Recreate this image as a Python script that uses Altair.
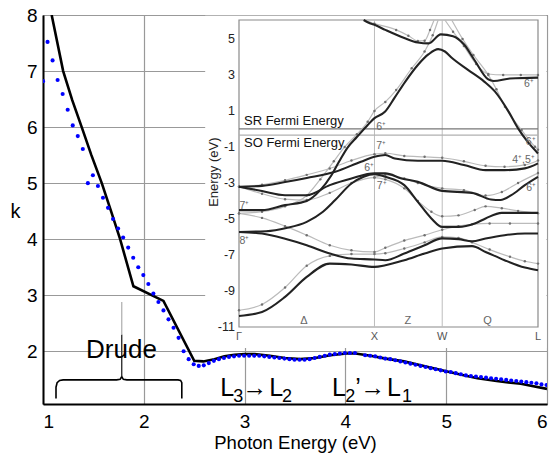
import altair as alt
import pandas as pd

FONT = "Liberation Sans"

# ---------------- main panel data ----------------
calc_x = [1.086, 1.20, 1.29, 1.384, 1.48, 1.583, 1.675, 1.765, 1.897, 2.195, 2.50, 2.59, 2.70, 2.80,
          2.90, 3.00, 3.10, 3.25, 3.40, 3.55, 3.70, 3.85, 4.01, 4.10, 4.25, 4.40, 4.58, 4.80, 5.01,
          5.15, 5.31, 5.50, 5.74, 6.00]
calc_k = [8.0, 7.0, 6.48, 6.0, 5.5, 5.0, 4.5, 4.0, 3.16, 2.90, 1.83, 1.82, 1.86, 1.91,
          1.94, 1.95, 1.95, 1.92, 1.88, 1.86, 1.88, 1.93, 1.96, 1.96, 1.92, 1.87, 1.82, 1.73, 1.64,
          1.58, 1.52, 1.47, 1.42, 1.33]

exp_x = [1.000, 1.045, 1.095, 1.145, 1.195, 1.245, 1.295, 1.345, 1.395, 1.445, 1.495, 1.545, 1.595,
         1.645, 1.695, 1.745, 1.795, 1.845, 1.895, 1.945, 1.995, 2.045, 2.095, 2.145, 2.195, 2.245,
         2.295, 2.345, 2.395, 2.445, 2.495, 2.545, 2.595, 2.645, 2.695, 2.745, 2.795, 2.845, 2.895,
         2.945, 2.995, 3.045, 3.095, 3.145, 3.195, 3.245, 3.295, 3.345, 3.395, 3.445, 3.495, 3.545,
         3.595, 3.645, 3.695, 3.745, 3.795, 3.845, 3.895, 3.945, 3.995, 4.045, 4.095, 4.195, 4.245,
         4.295, 4.345, 4.395, 4.445, 4.495, 4.545, 4.595, 4.645, 4.695, 4.745, 4.795, 4.845, 4.895,
         4.945, 4.995, 5.045, 5.095, 5.145, 5.195, 5.245, 5.295, 5.345, 5.395, 5.445, 5.495, 5.545,
         5.595, 5.645, 5.695, 5.745, 5.795, 5.845, 5.895, 5.945, 5.995]
exp_k = [6.82, 7.52, 7.19, 6.84, 6.59, 6.31, 6.03, 5.84, 5.61, 5.00, 5.14, 4.95, 4.74,
         4.56, 4.36, 4.19, 4.03, 3.85, 3.67, 3.50, 3.36, 3.20, 3.03, 2.88, 2.73, 2.57,
         2.42, 2.24, 2.00, 1.86, 1.77, 1.74, 1.75, 1.79, 1.83, 1.86, 1.88, 1.90, 1.91,
         1.92, 1.92, 1.92, 1.92, 1.92, 1.91, 1.90, 1.89, 1.88, 1.87, 1.86, 1.85, 1.85,
         1.85, 1.86, 1.88, 1.90, 1.92, 1.94, 1.95, 1.96, 1.97, 1.97, 1.97, 1.93, 1.92,
         1.91, 1.89, 1.87, 1.86, 1.84, 1.82, 1.80, 1.78, 1.76, 1.74, 1.72, 1.70, 1.68,
         1.66, 1.64, 1.63, 1.61, 1.59, 1.57, 1.56, 1.55, 1.54, 1.53, 1.52, 1.51, 1.50,
         1.49, 1.48, 1.47, 1.46, 1.45, 1.44, 1.43, 1.41, 1.40]

x_ticks = [1, 2, 3, 4, 5, 6]
k_ticks = [2, 3, 4, 5, 6, 7, 8]

# Drude brace (main-axis units)
brace_x = [1.129, 1.129, 1.14, 1.165, 1.20, 1.73, 1.765, 1.781, 1.797, 1.832, 2.34, 2.365, 2.377, 2.377]
brace_k = [1.16, 1.36, 1.44, 1.48, 1.49, 1.49, 1.50, 1.55, 1.50, 1.49, 1.49, 1.48, 1.44, 1.16]
stem_x = [1.781, 1.781, 1.781]
stem_k = [1.55, 2.30, 2.88]

note_text = ["Drude", "L", "3", "→", "L", "2", "L", "2", "’", "→", "L", "1"]
note_x = [1.427, 2.758, 2.887, 2.976, 3.244, 3.37, 3.867, 3.999, 4.098, 4.148, 4.413, 4.562]
note_k = [1.875, 1.209, 1.10, 1.209, 1.209, 1.10, 1.209, 1.10, 1.209, 1.209, 1.209, 1.10]
note_fs = [26, 25, 18, 25, 25, 18, 25, 18, 25, 25, 25, 18]

# ---------------- inset (band structure) data ----------------
sym_names = ["Γ", "X", "W", "L"]
sym_pos = [0.0, 1.0, 1.5, 2.207]
seg_names = ["Δ", "Z", "Q"]
seg_pos = [0.48, 1.247, 1.834]
e_ticks = [5, 3, 1, -1, -3, -5, -7, -9, -11]

so_1 = [(0, -10.39), (0.17, -10.17), (0.34, -9.33), (0.5, -8.22), (0.67, -7.48), (0.83, -7.53), (1.0, -7.66),
        (1.08, -7.57), (1.22, -7.29), (1.37, -6.92), (1.5, -6.64), (1.72, -6.51), (1.82, -6.83), (1.96, -7.29),
        (2.11, -7.7), (2.207, -7.85)]
so_2 = [(0, -5.72), (0.17, -5.81), (0.34, -6.1), (0.5, -6.46), (0.67, -6.92), (0.83, -7.2), (1.0, -7.25),
        (1.08, -7.29), (1.22, -6.92), (1.37, -6.46), (1.5, -6.08), (1.62, -6.12), (1.72, -6.24), (1.82, -6.08),
        (1.96, -5.9), (2.11, -5.81), (2.207, -5.81)]
so_3 = [(0, -5.72), (0.2, -5.68), (0.35, -5.5), (0.5, -5.16), (0.62, -4.6), (0.71, -3.95), (0.83, -3.03),
        (0.92, -2.65), (1.0, -2.51), (1.08, -2.66), (1.22, -3.12), (1.32, -4.05), (1.42, -4.97), (1.5, -5.44),
        (1.62, -5.44), (1.74, -5.25), (1.82, -4.97), (1.94, -4.66), (2.06, -4.66), (2.207, -4.66)]
so_4 = [(0, -4.51), (0.17, -4.51), (0.34, -4.23), (0.5, -4.0), (0.6, -3.4), (0.68, -2.6), (0.74, -1.8),
        (0.8, -1.05), (0.87, -0.45), (0.95, 0.22), (1.0, 0.6), (1.077, 0.95), (1.15, 1.75), (1.225, 2.6),
        (1.32, 3.55), (1.40, 4.15), (1.47, 4.43), (1.52, 4.3), (1.57, 3.95), (1.69, 3.28), (1.81, 2.63),
        (1.89, 2.07), (1.99, 0.96), (2.06, 0.03), (2.13, -0.71), (2.207, -1.36)]
so_5 = [(0, -3.21), (0.17, -3.45), (0.34, -3.68), (0.5, -3.68), (0.67, -3.12), (0.83, -2.75), (1.0, -2.47),
        (1.08, -2.47), (1.2, -2.75), (1.32, -2.94), (1.5, -3.44), (1.72, -3.55), (1.86, -3.92), (1.93, -3.95),
        (2.01, -3.68), (2.11, -3.12), (2.207, -2.66)]
so_6 = [(0, -3.21), (0.17, -3.16), (0.34, -2.95), (0.5, -2.72), (0.71, -2.38), (0.9, -1.82), (1.0, -1.55),
        (1.08, -1.45), (1.15, -1.64), (1.32, -1.77), (1.5, -1.77), (1.66, -2.0), (1.82, -2.29), (1.96, -2.29),
        (2.11, -2.19), (2.207, -1.91)]
so_7 = [(0.92, 6.05), (0.97, 5.85), (1.0, 5.78), (1.08, 5.5), (1.22, 5.05), (1.32, 4.8), (1.40, 4.75),
        (1.49, 5.25), (1.58, 5.15), (1.66, 4.7), (1.74, 3.8), (1.84, 2.75), (1.88, 2.66), (2.0, 2.8),
        (2.207, 2.85)]

sr_1 = [(0, -10.07), (0.17, -9.75), (0.34, -8.81), (0.5, -7.6), (0.67, -7.05), (0.83, -6.95), (1.0, -6.95),
        (1.08, -6.9), (1.22, -6.64), (1.37, -6.3), (1.5, -6.0), (1.62, -6.05), (1.72, -6.3), (1.85, -6.7),
        (2.0, -7.1), (2.11, -7.35), (2.207, -7.48)]
sr_2 = [(0, -4.69), (0.17, -4.94), (0.34, -5.4), (0.5, -5.9), (0.67, -6.46), (0.83, -6.74), (1.0, -6.83),
        (1.08, -6.6), (1.22, -6.2), (1.37, -5.9), (1.5, -5.6), (1.62, -5.4), (1.72, -5.3), (1.85, -5.25),
        (2.0, -5.25), (2.207, -5.25)]
sr_3 = [(0, -3.21), (0.17, -3.1), (0.34, -2.85), (0.5, -2.55), (0.67, -2.2), (0.83, -1.75), (1.0, -1.4),
        (1.08, -1.35), (1.22, -1.5), (1.37, -1.55), (1.5, -1.6), (1.66, -1.8), (1.82, -2.05), (1.96, -2.1),
        (2.11, -2.0), (2.207, -1.75)]
sr_4 = [(0, -3.21), (0.17, -3.6), (0.34, -3.9), (0.5, -3.95), (0.67, -3.55), (0.83, -3.0), (1.0, -2.7),
        (1.08, -2.8), (1.22, -3.3), (1.32, -4.0), (1.42, -4.6), (1.5, -4.85), (1.62, -4.8), (1.74, -4.5),
        (1.82, -4.3), (1.94, -4.4), (2.06, -4.55), (2.207, -4.68)]
sr_5 = [(1.0, -2.7), (1.08, -2.55), (1.22, -2.75), (1.32, -3.0), (1.5, -3.3), (1.66, -3.4), (1.82, -3.7),
        (1.94, -3.5), (2.06, -3.0), (2.207, -2.45)]
sr_6 = [(0, -4.69), (0.17, -4.6), (0.34, -4.3), (0.5, -3.7), (0.6, -2.8), (0.7, -1.8), (0.78, -1.0),
        (0.87, -0.3), (0.95, 0.4), (1.0, 1.0), (1.08, 1.5), (1.16, 2.16), (1.275, 3.37), (1.37, 4.3),
        (1.43, 5.2), (1.47, 6.05)]
sr_7 = [(0.92, 6.05), (1.0, 5.85), (1.16, 5.5), (1.25, 5.18), (1.32, 4.89), (1.37, 4.9), (1.41, 5.5),
        (1.44, 6.05)]
sr_8 = [(1.52, 6.05), (1.58, 5.4), (1.66, 4.6), (1.75, 3.6), (1.84, 3.05), (1.95, 3.0), (2.08, 3.0),
        (2.207, 3.0)]
sr_9 = [(1.57, 6.05), (1.65, 5.0), (1.73, 4.11), (1.84, 3.0), (1.90, 2.2), (1.963, 1.23), (2.086, -0.06),
        (2.185, -0.99), (2.207, -1.15)]

so_bands = [so_1, so_2, so_3, so_4, so_5, so_6, so_7]
sr_bands = [sr_1, sr_2, sr_3, sr_4, sr_5, sr_6, sr_7, sr_8, sr_9]

fermi_names = ["SR Fermi Energy", "SO Fermi Energy"]
fermi_E = [0.0, -0.34]
fermi_color = ["#777777", "#b0b0b0"]
fermi_label_E = [0.22, -1.0]

band_lbl_text = ["6⁺", "7⁺", "6⁺", "7⁺", "7⁺", "8⁺", "6⁺", "6⁺", "4⁺,5⁺", "6⁺"]
band_lbl_k = [1.05, 1.05, 0.96, 1.053, 0.04, 0.04, 2.14, 2.153, 2.10, 2.156]
band_lbl_E = [0.12, -0.94, -2.15, -3.17, -4.28, -6.22, 2.49, -0.71, -1.73, -3.26]

# ---------------- build frames ----------------
calc_df = pd.DataFrame({"x": calc_x, "k": calc_k})
exp_df = pd.DataFrame({"x": exp_x, "k": exp_k})
brace_df = pd.DataFrame({"x": brace_x, "k": brace_k, "o": list(range(len(brace_x)))})
stem_df = pd.DataFrame({"x": stem_x[:2], "k": stem_k[:2]})
stem2_df = pd.DataFrame({"x": stem_x[1:], "k": stem_k[1:]})
note_df = pd.DataFrame({"x": note_x, "k": note_k, "t": note_text, "fs": note_fs})
cover_df = pd.DataFrame({"x": [2.609], "x2": [5.995], "k": [2.059], "k2": [7.985]})

so_df = pd.DataFrame([{"band": i, "kp": p[0], "E": p[1]} for i, b in enumerate(so_bands) for p in b])
sr_df = pd.DataFrame([{"band": i, "kp": p[0], "E": p[1]} for i, b in enumerate(sr_bands) for p in b])

xs = alt.Scale(domain=[1, 6], nice=False, zero=False)
ys = alt.Scale(domain=[1.06, 8], nice=False, zero=False)

x_axis = alt.Axis(values=x_ticks, title="Photon Energy (eV)", grid=True, gridColor="#999999",
                  gridWidth=1.2, ticks=False, tickSize=0, labelPadding=8, labelFontSize=19,
                  titleFontSize=18.5, titleFontWeight="normal", titleY=44, titleBaseline="alphabetic",
                  domainColor="black", domainWidth=2, labelColor="black", titleColor="black",
                  format="d")
y_axis = alt.Axis(values=k_ticks, title="k", grid=True, gridColor="#999999", gridWidth=1.2,
                  ticks=False, tickSize=0, labelPadding=6, labelFontSize=19, titleFontSize=20,
                  titleFontWeight="normal", titleAngle=0, titleX=-28, titleY=196,
                  titleBaseline="middle", titleAlign="center", domainColor="black", domainWidth=2,
                  labelColor="black", titleColor="black", format="d")

X = alt.X("x:Q", scale=xs, axis=x_axis)
Y = alt.Y("k:Q", scale=ys, axis=y_axis)

cover = alt.Chart(cover_df).mark_rect(fill="white", stroke=None).encode(
    x=X, x2="x2:Q", y=Y, y2="k2:Q")
calc = alt.Chart(calc_df).mark_line(color="black", strokeWidth=2.6, clip=True).encode(x=X, y=Y)
exp = alt.Chart(exp_df).mark_circle(color="#0000ff", size=17, opacity=1, clip=True).encode(x=X, y=Y)
brace = alt.Chart(brace_df).mark_line(color="black", strokeWidth=1.6).encode(x=X, y=Y, order="o:Q")
stem = alt.Chart(stem_df).mark_line(color="#333333", strokeWidth=1.4).encode(x=X, y=Y)
stem2 = alt.Chart(stem2_df).mark_line(color="#b8b8b8", strokeWidth=1.4).encode(x=X, y=Y)
notes = alt.Chart(note_df).mark_text(align="left", baseline="alphabetic", color="black", font=FONT).encode(
    x=X, y=Y, text="t:N", size=alt.Size("fs:Q", scale=None, legend=None))

main = alt.layer(cover, calc, exp, brace, stem, stem2, notes)

# inset scales mapped to pixel positions inside the plot area
xi = alt.Scale(domain=[0, 2.207], range=[196, 495], nice=False, zero=False)
yi = alt.Scale(domain=[-11, 6.05], range=[312, 5], nice=False, zero=False)
KX = alt.X("kp:Q", scale=xi, axis=None)
EY = alt.Y("E:Q", scale=yi, axis=None)

frame_df = pd.DataFrame({"kp": [0.0], "kp2": [2.207], "E": [-11.0], "E2": [6.05]})
frame = alt.Chart(frame_df).mark_rect(fill=None, stroke="#8a8a8a", strokeWidth=1.2).encode(
    x=KX, x2="kp2:Q", y=EY, y2="E2:Q")

vl_df = pd.DataFrame({"kp": sym_pos[1:3], "E": [-11.0, -11.0], "E2": [6.05, 6.05]})
vlines = alt.Chart(vl_df).mark_rule(color="#bdbdbd", strokeWidth=1).encode(x=KX, y=EY, y2="E2:Q")

fermi_df = pd.DataFrame({"kp": [0.0, 0.0], "kp2": [2.207, 2.207], "E": fermi_E, "c": fermi_color,
                         "lbl": fermi_names, "le": fermi_label_E, "lk": [0.037, 0.037]})
fermi = alt.Chart(fermi_df).mark_rule(strokeWidth=1.2).encode(
    x=KX, x2="kp2:Q", y=EY, color=alt.Color("c:N", scale=None, legend=None))
fermi_txt = alt.Chart(fermi_df).mark_text(align="left", baseline="alphabetic", fontSize=13,
                                          color="#111111", font=FONT).encode(
    x=alt.X("lk:Q", scale=xi, axis=None), y=alt.Y("le:Q", scale=yi, axis=None), text="lbl:N")

sr_lines = alt.Chart(sr_df).mark_line(color="#bbbbbb", strokeWidth=1.2, interpolate="monotone").encode(
    x=KX, y=EY, detail="band:N")
sr_pts = alt.Chart(sr_df).transform_filter("datum.E < 6").mark_circle(
    color="#707070", size=6, opacity=1).encode(x=KX, y=EY)
so_lines = alt.Chart(so_df).mark_line(color="#222222", strokeWidth=2.1, interpolate="monotone").encode(
    x=KX, y=EY, detail="band:N")

etick_df = pd.DataFrame({"kp": [0.0] * len(e_ticks), "E": e_ticks, "t": [str(v) for v in e_ticks]})
etick_txt = alt.Chart(etick_df).mark_text(align="right", baseline="middle", dx=-4, fontSize=12.5,
                                          color="#222222", font=FONT).encode(x=KX, y=EY, text="t:N")
elabel_df = pd.DataFrame({"kp": [-0.188], "E": [-2.4], "t": ["Energy (eV)"]})
elabel = alt.Chart(elabel_df).mark_text(angle=270, align="center", baseline="middle", fontSize=13,
                                        color="#222222", font=FONT).encode(x=KX, y=EY, text="t:N")

sym_df = pd.DataFrame({"kp": sym_pos, "E": [-11.0] * 4, "t": sym_names})
sym_txt = alt.Chart(sym_df).mark_text(baseline="middle", dy=10, fontSize=11, color="#555555",
                                      font=FONT).encode(x=KX, y=EY, text="t:N")
seg_df = pd.DataFrame({"kp": seg_pos, "E": [-11.0] * 3, "t": seg_names})
seg_txt = alt.Chart(seg_df).mark_text(baseline="middle", dy=-6, fontSize=11, color="#666666",
                                      font=FONT).encode(x=KX, y=EY, text="t:N")
bl_df = pd.DataFrame({"kp": band_lbl_k, "E": band_lbl_E, "t": band_lbl_text})
bl_txt = alt.Chart(bl_df).mark_text(baseline="middle", fontSize=10.5, color="#666666",
                                    font=FONT).encode(x=KX, y=EY, text="t:N")

inset = alt.layer(frame, vlines, fermi, sr_lines, sr_pts, so_lines, fermi_txt, etick_txt, elabel,
                  sym_txt, seg_txt, bl_txt)

chart = alt.layer(main, inset).resolve_scale(x="independent", y="independent").properties(
    width=504, height=389, autosize="none",
    padding={"left": 43, "top": 15, "right": 5, "bottom": 53},
    background="white",
).configure_view(stroke="#555555", strokeWidth=1).configure_text(font=FONT).configure_axis(
    labelFont=FONT, titleFont=FONT)

chart.save("out.html", embed_options={"renderer": "svg", "actions": False})
